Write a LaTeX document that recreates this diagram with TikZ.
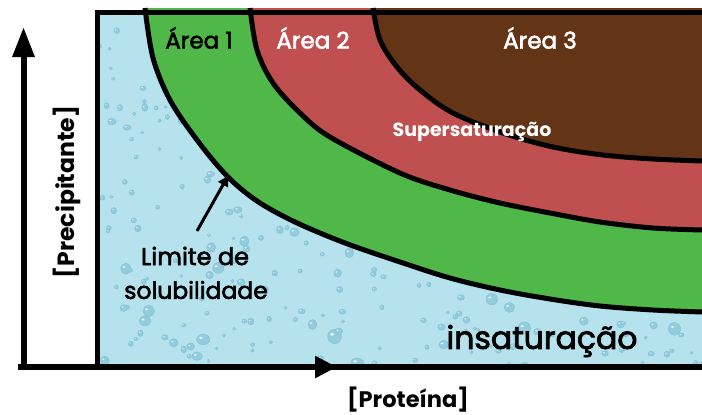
\documentclass[tikz,border=0pt]{standalone}
\usepackage{fontspec}
\setmainfont{Poppins}
\newfontfamily\medfont[FakeBold=2.5]{Poppins}
\usetikzlibrary{arrows.meta}
\definecolor{bgblue}{HTML}{B5E2EC}
\definecolor{dropblue}{HTML}{93CCDD}
\definecolor{dropedge}{HTML}{7DBFD2}
\definecolor{areagreen}{HTML}{50B848}
\definecolor{areared}{HTML}{C0504F}
\definecolor{areabrown}{HTML}{633516}
\tikzset{
  boundary/.style={line width=5pt, black},
  frame/.style={line width=5pt, black},
  axis/.style={line width=6pt, black},
  lbl/.style={inner sep=0pt, anchor=center},
  drop/.style={fill=dropblue, draw=dropedge, line width=0.4pt},
  shine/.style={fill=white, fill opacity=0.75}
}
\newcommand\curveA{plot[smooth,tension=0.55] coordinates {(145,8) (153,58) (170,100) (197,140) (227,176) (257,201) (295,222) (345,243) (400,262) (450,278) (500,290) (550,299) (600,306) (653,310) (702,312)}}
\newcommand\curveB{plot[smooth,tension=0.55] coordinates {(250,8) (257,50) (273,83) (300,113) (330,137) (400,173) (450,190) (500,203) (550,213) (600,222) (653,228) (702,230)}}
\newcommand\curveC{plot[smooth,tension=0.55] coordinates {(373,8) (380,40) (397,67) (420,90) (453,113) (503,133) (553,147) (603,155) (653,159) (702,161)}}
\begin{document}
\begin{tikzpicture}[x=1pt,y=-1pt]
\useasboundingbox (0,0) rectangle (702,415);
% background with water drops
\fill[bgblue] (97,12) rectangle (702,367);
\begin{scope}
  \clip (97,12) rectangle (702,367);
  \pgfmathsetseed{11}
  \foreach \i in {1,...,420}{
    \pgfmathsetmacro\dx{97+610*rnd}
    \pgfmathsetmacro\dy{10+360*rnd}
    \pgfmathsetmacro\dr{1.5+5.5*rnd*rnd}
    \pgfmathsetmacro\dq{0.7+0.5*rnd}
    \path[drop] (\dx,\dy) ellipse [x radius=\dr pt, y radius=\dq*\dr pt];
    \path[shine] (\dx-0.35*\dr,\dy-0.3*\dq*\dr) ellipse [x radius=0.3*\dr pt, y radius=0.2*\dr pt];
  }
\end{scope}
% regions
\fill[areagreen] \curveA -- (702,8) -- cycle;
\fill[areared] \curveB -- (702,8) -- cycle;
\fill[areabrown] \curveC -- (702,8) -- cycle;
\draw[boundary] \curveA;
\draw[boundary] \curveB;
\draw[boundary] \curveC;
% frame
\coordinate (tl) at (97,12.5);
\coordinate (tr) at (702,12.5);
\coordinate (bl) at (97,367);
\draw[frame] (tr) -- (tl) -- (bl);
% axes
\coordinate (origin) at (18,367);
\coordinate (xend) at (337,367);
\coordinate (yfoot) at (23.5,370);
\coordinate (yend) at (23.5,27);
\coordinate (xfar) at (702,367);
\draw[axis] (origin) -- (xfar);
\draw[axis, -{Triangle[length=22pt,width=21pt]}] (origin) -- (xend);
\draw[axis, -{Triangle[length=30pt,width=21pt]}] (yfoot) -- (yend);
% labels
\node[lbl, font=\medfont\fontsize{23}{26}\selectfont] (a1) at (199,38) {Área 1};
\node[lbl, font=\medfont\fontsize{23}{26}\selectfont, text=white] (a2) at (313,38) {Área 2};
\node[lbl, font=\medfont\fontsize{23}{26}\selectfont, text=white] (a3) at (540,38) {Área 3};
\node[lbl, font=\fontsize{19}{22}\bfseries\selectfont, text=white] (sup) at (472,132) {Supersaturação};
\node[lbl, font=\medfont\fontsize{24}{27}\selectfont] (lim1) at (195,256) {Limite de};
\node[lbl, font=\medfont\fontsize{23.5}{27}\selectfont] (lim2) at (196,290) {solubilidade};
\node[lbl, font=\medfont\fontsize{31.5}{36}\selectfont] (ins) at (542,341) {insaturação};
\node[lbl, font=\fontsize{22.5}{26}\bfseries\selectfont] (prot) at (408,400) {[Proteína]};
\node[lbl, font=\fontsize{23.5}{27}\bfseries\selectfont, rotate=90] (prec) at (67,192) {[Precipitante]};
% pointer to the solubility limit
\coordinate (limtail) at (197,231);
\coordinate (limtip) at (228,176);
\draw[line width=3pt, -{Triangle[length=10pt,width=11pt]}] (limtail) -- (limtip);
\end{tikzpicture}
\end{document}
